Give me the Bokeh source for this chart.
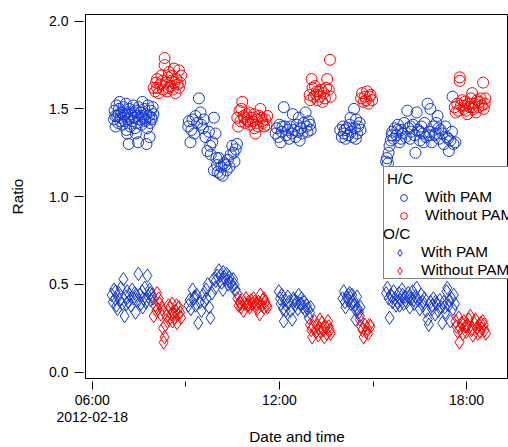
from bokeh.plotting import figure
from bokeh.models import Range1d, FixedTicker, Legend, LegendItem
from bokeh.embed import file_html
from bokeh.resources import INLINE

# ---------------- data (time in hours of 2012-02-18) ----------------
hc_with_time = [
    6.70, 6.72, 6.75, 6.78, 6.80, 6.83, 6.86, 6.88, 6.91, 6.94,
    6.97, 7.00, 7.02, 7.05, 7.08, 7.10, 7.13, 7.16, 7.19, 7.22,
    7.25, 7.28, 7.31, 7.34, 7.37, 7.40, 7.43, 7.46, 7.49, 7.52,
    7.55, 7.58, 7.61, 7.64, 7.67, 7.70, 7.73, 7.76, 7.79, 7.82,
    7.85, 7.88, 7.91, 7.94, 7.96, 7.12, 7.17, 7.47, 7.74, 7.84,
    6.74, 6.90, 7.06, 7.20, 7.35, 7.58, 7.70, 7.90, 6.85, 7.40,
    9.08, 9.10, 9.15, 9.18, 9.22, 9.27, 9.31, 9.36, 9.42, 9.47,
    9.50, 9.55, 9.58, 9.63, 9.69, 9.74, 9.78, 9.85, 9.90, 9.95,
    9.90, 9.98, 10.02, 10.06, 10.10, 10.14, 10.18, 10.22, 10.27, 10.31,
    10.35, 10.40, 10.44, 10.49, 10.53, 10.56, 10.60, 10.64, 9.80, 10.00,
    11.88, 11.92, 11.97, 12.00, 12.04, 12.08, 12.14, 12.18, 12.22, 12.27,
    12.31, 12.35, 12.40, 12.43, 12.47, 12.52, 12.56, 12.60, 12.65, 12.70,
    12.74, 12.78, 12.84, 12.87, 12.90, 12.94, 12.98, 13.00, 12.10, 12.62,
    13.95, 14.00, 14.04, 14.07, 14.12, 14.16, 14.20, 14.25, 14.30, 14.34,
    14.39, 14.42, 14.46, 14.49, 14.53, 14.57, 14.60, 14.28, 14.10, 14.45,
    15.42, 15.45, 15.48, 15.50, 15.53, 15.57, 15.62, 15.66, 15.70, 15.75,
    15.80, 15.85, 15.90, 15.95, 16.00, 16.05, 16.10, 16.14, 16.19, 16.23,
    16.28, 16.33, 16.36, 16.40, 16.45, 16.50, 16.55, 16.60, 16.65, 16.70,
    16.75, 16.80, 16.84, 16.88, 16.93, 16.98, 17.03, 17.07, 17.12, 17.17,
    17.22, 17.27, 17.32, 17.37, 17.43, 17.48, 17.53, 17.58, 17.64, 17.55,
    15.60, 15.90, 16.20, 16.50, 16.80, 17.10, 17.40, 15.78, 16.62, 17.00,
]
hc_with_ratio = [
    1.44, 1.49, 1.40, 1.52, 1.46, 1.42, 1.50, 1.54, 1.45, 1.48,
    1.41, 1.51, 1.46, 1.43, 1.53, 1.38, 1.48, 1.44, 1.50, 1.40,
    1.47, 1.43, 1.52, 1.45, 1.39, 1.49, 1.42, 1.46, 1.51, 1.44,
    1.48, 1.41, 1.54, 1.45, 1.50, 1.43, 1.47, 1.39, 1.52, 1.46,
    1.42, 1.49, 1.44, 1.51, 1.47, 1.36, 1.30, 1.31, 1.30, 1.34,
    1.46, 1.43, 1.47, 1.45, 1.48, 1.46, 1.44, 1.45, 1.47, 1.36,
    1.40, 1.43, 1.31, 1.38, 1.44, 1.36, 1.46, 1.42, 1.56, 1.48,
    1.41, 1.39, 1.44, 1.34, 1.26, 1.37, 1.29, 1.31, 1.45, 1.36,
    1.15, 1.22, 1.14, 1.22, 1.13, 1.17, 1.12, 1.19, 1.18, 1.15,
    1.21, 1.17, 1.24, 1.29, 1.25, 1.20, 1.27, 1.30, 1.24, 1.18,
    1.36, 1.39, 1.34, 1.41, 1.31, 1.37, 1.51, 1.40, 1.35, 1.38,
    1.33, 1.40, 1.36, 1.47, 1.38, 1.34, 1.41, 1.37, 1.32, 1.39,
    1.36, 1.42, 1.48, 1.40, 1.37, 1.43, 1.41, 1.38, 1.40, 1.45,
    1.38, 1.34, 1.40, 1.36, 1.33, 1.39, 1.35, 1.41, 1.37, 1.34,
    1.50, 1.39, 1.44, 1.36, 1.40, 1.42, 1.38, 1.45, 1.38, 1.33,
    1.20, 1.22, 1.19, 1.25, 1.29, 1.32, 1.37, 1.33, 1.39, 1.35,
    1.41, 1.31, 1.38, 1.36, 1.42, 1.34, 1.49, 1.39, 1.33, 1.37,
    1.41, 1.35, 1.25, 1.48, 1.38, 1.32, 1.40, 1.36, 1.42, 1.34,
    1.53, 1.37, 1.50, 1.31, 1.40, 1.35, 1.42, 1.46, 1.33, 1.38,
    1.36, 1.30, 1.40, 1.34, 1.26, 1.32, 1.37, 1.30, 1.31, 1.57,
    1.35, 1.33, 1.40, 1.37, 1.35, 1.39, 1.33, 1.38, 1.31, 1.36,
]

hc_without_time = [
    7.97, 8.02, 8.08, 8.08, 8.13, 8.18, 8.22, 8.27, 8.32, 8.32,
    8.36, 8.40, 8.43, 8.46, 8.50, 8.54, 8.58, 8.62, 8.67, 8.70,
    8.74, 8.78, 8.78, 8.82, 8.85, 8.25, 8.55, 8.05, 8.45, 8.64,
    10.65, 10.68, 10.72, 10.75, 10.78, 10.81, 10.85, 10.90, 10.94, 10.98,
    11.02, 11.07, 11.11, 11.15, 11.19, 11.23, 11.27, 11.31, 11.35, 11.39,
    11.43, 11.47, 11.51, 11.55, 11.59, 11.61, 11.00, 11.20, 10.88, 11.45,
    12.97, 12.99, 13.03, 13.06, 13.10, 13.14, 13.18, 13.22, 13.26, 13.30,
    13.34, 13.38, 13.42, 13.46, 13.50, 13.53, 13.58, 13.62, 13.64, 13.20,
    14.62, 14.65, 14.70, 14.74, 14.78, 14.81, 14.85, 14.89, 14.92, 14.97,
    17.62, 17.65, 17.70, 17.74, 17.78, 17.78, 17.82, 17.86, 17.90, 17.94,
    17.98, 18.02, 18.06, 18.10, 18.14, 18.18, 18.22, 18.26, 18.30, 18.34,
    18.38, 18.42, 18.45, 18.49, 18.53, 18.55, 18.58, 18.60, 17.95, 18.20,
]
hc_without_ratio = [
    1.62, 1.60, 1.62, 1.67, 1.59, 1.64, 1.69, 1.61, 1.79, 1.75,
    1.65, 1.60, 1.68, 1.71, 1.63, 1.66, 1.61, 1.73, 1.59, 1.67,
    1.64, 1.72, 1.62, 1.65, 1.69, 1.66, 1.69, 1.65, 1.62, 1.65,
    1.45, 1.40, 1.49, 1.43, 1.50, 1.54, 1.46, 1.42, 1.47, 1.44,
    1.48, 1.41, 1.45, 1.43, 1.47, 1.36, 1.44, 1.40, 1.46, 1.50,
    1.45, 1.42, 1.40, 1.44, 1.41, 1.46, 1.43, 1.39, 1.45, 1.43,
    1.58, 1.55, 1.67, 1.62, 1.57, 1.63, 1.58, 1.55, 1.60, 1.57,
    1.61, 1.54, 1.59, 1.56, 1.62, 1.67, 1.61, 1.78, 1.57, 1.60,
    1.56, 1.59, 1.54, 1.57, 1.55, 1.60, 1.53, 1.57, 1.58, 1.55,
    1.51, 1.48, 1.53, 1.49, 1.68, 1.66, 1.52, 1.55, 1.50, 1.54,
    1.49, 1.47, 1.53, 1.51, 1.56, 1.59, 1.50, 1.53, 1.48, 1.55,
    1.51, 1.54, 1.56, 1.52, 1.65, 1.50, 1.53, 1.56, 1.52, 1.51,
]

oc_with_time = [
    6.62, 6.66, 6.70, 6.74, 6.78, 6.81, 6.85, 6.88, 6.92, 6.96,
    7.00, 7.04, 7.08, 7.12, 7.16, 7.20, 7.24, 7.28, 7.32, 7.36,
    7.39, 7.43, 7.48, 7.52, 7.56, 7.60, 7.64, 7.68, 7.72, 7.77,
    7.80, 7.84, 7.88, 7.92, 7.96, 6.75, 7.10, 7.40, 7.62, 7.86,
    9.08, 9.12, 9.16, 9.22, 9.26, 9.31, 9.35, 9.40, 9.45, 9.50,
    9.55, 9.60, 9.65, 9.70, 9.75, 9.79, 9.84, 9.89, 9.94, 10.00,
    10.06, 10.11, 10.15, 10.19, 10.23, 10.27, 10.31, 10.35, 10.40, 10.44,
    10.48, 10.52, 10.56, 10.60, 10.64, 9.96, 10.20, 10.38, 9.67, 9.28,
    11.98, 12.02, 12.04, 12.08, 12.12, 12.14, 12.18, 12.23, 12.27, 12.31,
    12.36, 12.41, 12.45, 12.50, 12.55, 12.59, 12.62, 12.66, 12.71, 12.75,
    12.80, 12.84, 12.88, 12.94, 12.98, 13.00, 12.20, 12.48, 12.70, 12.90,
    14.02, 14.06, 14.10, 14.12, 14.16, 14.20, 14.25, 14.29, 14.33, 14.37,
    14.41, 14.44, 14.49, 14.52, 14.55, 14.58, 14.60, 14.35, 14.22, 14.46,
    15.42, 15.46, 15.50, 15.53, 15.57, 15.62, 15.66, 15.70, 15.74, 15.78,
    15.83, 15.88, 15.93, 15.98, 16.03, 16.08, 16.13, 16.18, 16.22, 16.27,
    16.32, 16.36, 16.40, 16.45, 16.50, 16.55, 16.60, 16.65, 16.70, 16.75,
    16.79, 16.84, 16.89, 16.94, 16.99, 17.04, 17.09, 17.14, 17.19, 17.22,
    17.27, 17.32, 17.36, 17.38, 17.42, 17.48, 17.52, 17.56, 17.59, 17.63,
    15.60, 15.95, 16.30, 16.60, 16.90, 17.30, 15.85, 16.15, 17.00, 17.45,
]
oc_with_ratio = [
    0.44, 0.40, 0.47, 0.42, 0.38, 0.36, 0.45, 0.41, 0.48, 0.39,
    0.53, 0.32, 0.43, 0.46, 0.40, 0.44, 0.38, 0.47, 0.42, 0.45,
    0.34, 0.41, 0.56, 0.44, 0.39, 0.46, 0.42, 0.48, 0.40, 0.55,
    0.43, 0.47, 0.41, 0.44, 0.42, 0.46, 0.39, 0.44, 0.37, 0.45,
    0.38, 0.41, 0.36, 0.47, 0.42, 0.38, 0.44, 0.28, 0.40, 0.35,
    0.44, 0.40, 0.47, 0.50, 0.37, 0.31, 0.45, 0.53, 0.48, 0.55,
    0.58, 0.55, 0.51, 0.47, 0.54, 0.53, 0.56, 0.50, 0.54, 0.51,
    0.49, 0.53, 0.50, 0.47, 0.45, 0.52, 0.57, 0.52, 0.42, 0.43,
    0.46, 0.42, 0.39, 0.44, 0.36, 0.29, 0.41, 0.38, 0.43, 0.40,
    0.35, 0.30, 0.42, 0.38, 0.40, 0.36, 0.44, 0.39, 0.42, 0.37,
    0.40, 0.35, 0.38, 0.31, 0.34, 0.37, 0.35, 0.41, 0.39, 0.36,
    0.42, 0.46, 0.40, 0.37, 0.43, 0.41, 0.45, 0.39, 0.44, 0.41,
    0.38, 0.30, 0.43, 0.36, 0.34, 0.32, 0.37, 0.40, 0.44, 0.35,
    0.45, 0.48, 0.42, 0.31, 0.44, 0.40, 0.46, 0.42, 0.38, 0.40,
    0.45, 0.41, 0.47, 0.39, 0.43, 0.40, 0.45, 0.37, 0.42, 0.46,
    0.39, 0.43, 0.48, 0.41, 0.36, 0.44, 0.38, 0.42, 0.35, 0.30,
    0.27, 0.40, 0.36, 0.42, 0.33, 0.39, 0.35, 0.41, 0.37, 0.28,
    0.40, 0.34, 0.46, 0.48, 0.38, 0.29, 0.42, 0.36, 0.44, 0.39,
    0.43, 0.44, 0.41, 0.40, 0.38, 0.37, 0.38, 0.43, 0.40, 0.41,
]

oc_without_time = [
    7.97, 8.02, 8.06, 8.08, 8.13, 8.16, 8.20, 8.24, 8.29, 8.32,
    8.35, 8.38, 8.42, 8.46, 8.50, 8.53, 8.56, 8.60, 8.64, 8.67,
    8.70, 8.72, 8.75, 8.78, 8.82, 8.85, 8.10, 8.44, 8.58, 8.27,
    10.65, 10.69, 10.73, 10.77, 10.81, 10.85, 10.89, 10.93, 10.97, 11.01,
    11.05, 11.09, 11.13, 11.17, 11.21, 11.25, 11.29, 11.33, 11.37, 11.39,
    11.43, 11.47, 11.51, 11.55, 11.59, 11.62, 10.75, 11.00, 11.20, 11.50,
    12.98, 13.02, 13.05, 13.09, 13.13, 13.17, 13.21, 13.25, 13.28, 13.32,
    13.36, 13.40, 13.44, 13.48, 13.52, 13.56, 13.58, 13.62, 13.64, 13.30,
    14.58, 14.62, 14.66, 14.70, 14.74, 14.78, 14.81, 14.85, 14.89, 14.92,
    17.64, 17.68, 17.72, 17.75, 17.77, 17.80, 17.84, 17.88, 17.91, 17.95,
    17.99, 18.03, 18.07, 18.12, 18.16, 18.20, 18.24, 18.28, 18.32, 18.36,
    18.40, 18.44, 18.48, 18.52, 18.55, 18.58, 18.62, 18.00, 18.18, 18.45,
]
oc_without_ratio = [
    0.32, 0.38, 0.35, 0.45, 0.42, 0.39, 0.33, 0.36, 0.17, 0.20,
    0.27, 0.32, 0.35, 0.30, 0.37, 0.33, 0.39, 0.34, 0.31, 0.35,
    0.38, 0.28, 0.33, 0.37, 0.34, 0.31, 0.36, 0.38, 0.29, 0.25,
    0.42, 0.38, 0.40, 0.37, 0.41, 0.35, 0.39, 0.42, 0.38, 0.40,
    0.37, 0.41, 0.39, 0.42, 0.38, 0.39, 0.36, 0.40, 0.33, 0.44,
    0.38, 0.41, 0.37, 0.40, 0.38, 0.37, 0.39, 0.38, 0.40, 0.42,
    0.27, 0.24, 0.20, 0.26, 0.29, 0.23, 0.27, 0.21, 0.25, 0.23,
    0.28, 0.24, 0.20, 0.26, 0.22, 0.29, 0.26, 0.24, 0.22, 0.30,
    0.30, 0.26, 0.24, 0.20, 0.27, 0.23, 0.25, 0.22, 0.27, 0.26,
    0.29, 0.26, 0.23, 0.31, 0.17, 0.25, 0.28, 0.22, 0.29, 0.26,
    0.23, 0.27, 0.30, 0.32, 0.24, 0.21, 0.28, 0.30, 0.25, 0.22,
    0.27, 0.23, 0.25, 0.29, 0.27, 0.24, 0.22, 0.26, 0.25, 0.28,
]

x_tick_hours = [6, 12, 18]
x_tick_labels = ["06:00\n2012-02-18", "12:00", "18:00"]
x_minor_hours = [9, 15]
y_ticks = [0.0, 0.5, 1.0, 1.5, 2.0]
y_tick_labels = ["0.0", "0.5", "1.0", "1.5", "2.0"]
series_labels = ["With PAM", "Without PAM"]
group_titles = ["H/C", "O/C"]

# ---------------- style ----------------
FONT = "Liberation Sans"
BLUE = "#1238d0"
RED = "#ff0000"

p = figure(width=508, height=447, output_backend="svg", toolbar_location=None,
           x_range=Range1d(5.785, 19.343), y_range=Range1d(-0.036, 2.038),
           min_border_left=85, min_border_right=0, min_border_top=14,
           min_border_bottom=68)
p.outline_line_color = "black"
p.outline_line_width = 1
p.xgrid.visible = False
p.ygrid.visible = False
p.background_fill_color = "white"
p.border_fill_color = "white"

r_hc_with = p.scatter(hc_with_time, hc_with_ratio, marker="circle", size=11,
                      line_color=BLUE, fill_color=None, line_width=1)
r_hc_without = p.scatter(hc_without_time, hc_without_ratio, marker="circle", size=11,
                         line_color=RED, fill_color=None, line_width=1)
r_oc_with = p.scatter(oc_with_time, oc_with_ratio, marker="diamond", size=13.5,
                      line_color=BLUE, fill_color=None, line_width=1)
r_oc_without = p.scatter(oc_without_time, oc_without_ratio, marker="diamond", size=13.5,
                         line_color=RED, fill_color=None, line_width=1)
r_blank = p.scatter(x=[], y=[], marker="circle", size=1, line_alpha=0, fill_alpha=0)

# x axis (bottom)
xa = p.xaxis[0]
xa.ticker = FixedTicker(ticks=x_tick_hours, minor_ticks=x_minor_hours)
xa.major_label_overrides = {t: l for t, l in zip(x_tick_hours, x_tick_labels)}
xa.axis_line_color = "black"
xa.major_tick_line_color = "black"
xa.minor_tick_line_color = "black"
xa.major_tick_in = -3
xa.major_tick_out = 11
xa.minor_tick_in = -3
xa.minor_tick_out = 8
xa.major_label_standoff = 2
xa.major_label_text_font = FONT
xa.major_label_text_font_size = "10.5pt"
xa.major_label_text_color = "black"
xa.major_label_text_line_height = 1.07
xa.axis_label = "Date and time"
xa.axis_label_text_font = FONT
xa.axis_label_text_font_size = "11.5pt"
xa.axis_label_text_font_style = "normal"
xa.axis_label_text_color = "black"
xa.axis_label_standoff = 0

# y axis (left)
ya = p.yaxis[0]
ya.ticker = FixedTicker(ticks=y_ticks)
ya.major_label_overrides = {t: l for t, l in zip(y_ticks, y_tick_labels)}
ya.axis_line_color = "black"
ya.major_tick_line_color = "black"
ya.major_tick_in = -2
ya.major_tick_out = 11
ya.minor_tick_out = 0
ya.minor_tick_in = 0
ya.major_label_standoff = 6
ya.major_label_text_font = FONT
ya.major_label_text_font_size = "10.5pt"
ya.major_label_text_color = "black"
ya.axis_label = "Ratio"
ya.axis_label_text_font = FONT
ya.axis_label_text_font_size = "11.5pt"
ya.axis_label_text_font_style = "normal"
ya.axis_label_text_color = "black"
ya.axis_label_standoff = 20

# legends: one bordered box for H/C, O/C block layered over its empty lower rows
common = dict(padding=3, margin=0, spacing=0, glyph_width=33, glyph_height=17,
              label_height=17, label_standoff=5, label_text_font=FONT,
              label_text_font_size="11.5pt", label_text_color="black",
              title_text_font=FONT, title_text_font_size="11.5pt",
              title_text_font_style="normal", title_text_color="black",
              title_standoff=0, location=(298, 99))

legend_hc = Legend(items=[LegendItem(label=series_labels[0], renderers=[r_hc_with]),
                          LegendItem(label=series_labels[1], renderers=[r_hc_without]),
                          LegendItem(label=" ", renderers=[r_blank]),
                          LegendItem(label=" ", renderers=[r_blank]),
                          LegendItem(label=" ", renderers=[r_blank])],
                   title=group_titles[0], border_line_color="black", border_line_width=1,
                   background_fill_color="white", background_fill_alpha=1.0, **common)
legend_oc = Legend(items=[LegendItem(label=series_labels[0], renderers=[r_oc_with]),
                          LegendItem(label=series_labels[1], renderers=[r_oc_without])],
                   title=group_titles[1], border_line_color=None,
                   background_fill_alpha=0.0, **common)
p.add_layout(legend_hc)
p.add_layout(legend_oc)

open("out.html", "w").write(file_html(p, INLINE))
